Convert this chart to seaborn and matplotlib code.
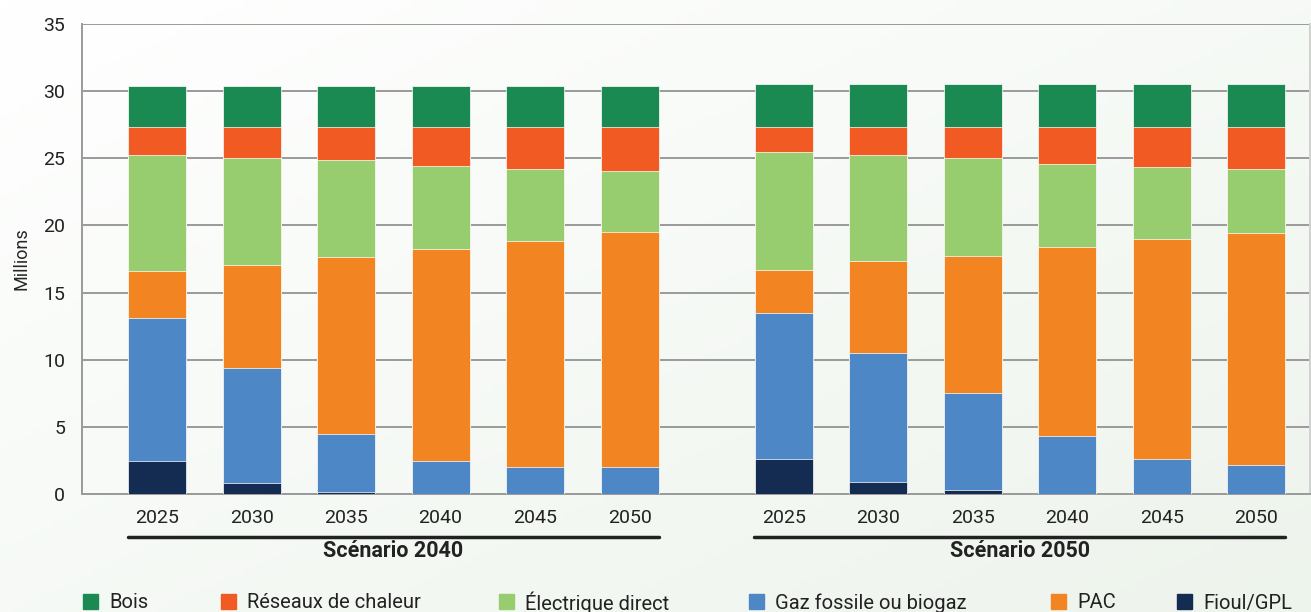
import numpy as np
import pandas as pd
import matplotlib
matplotlib.use("Agg")
import matplotlib.pyplot as plt
import matplotlib.transforms as mtransforms
from matplotlib.patches import Rectangle
import seaborn as sns

# data (millions)
years = ["2025", "2030", "2035", "2040", "2045", "2050"]
scenarios = ["Scénario 2040", "Scénario 2050"]
series = ["Bois", "Réseaux de chaleur", "Électrique direct",
          "Gaz fossile ou biogaz", "PAC", "Fioul/GPL"]
colors = ["#1b8a52", "#f15a22", "#97cd6e", "#4d87c6", "#f38422", "#142c52"]

fioul_2040 = [2.43, 0.82, 0.18, 0.0, 0.0, 0.0]
gaz_2040 = [10.70, 8.59, 4.32, 2.43, 2.01, 2.01]
pac_2040 = [3.47, 7.62, 13.15, 15.81, 16.83, 17.48]
elec_2040 = [8.67, 8.02, 7.20, 6.18, 5.39, 4.54]
reseaux_2040 = [2.03, 2.25, 2.45, 2.88, 3.07, 3.27]
bois_2040 = [3.08, 3.08, 3.08, 3.08, 3.08, 3.08]

fioul_2050 = [2.63, 0.92, 0.28, 0.0, 0.0, 0.0]
gaz_2050 = [10.88, 9.58, 7.24, 4.30, 2.61, 2.19]
pac_2050 = [3.17, 6.83, 10.20, 14.09, 16.38, 17.25]
elec_2050 = [8.76, 7.89, 7.28, 6.18, 5.39, 4.74]
reseaux_2050 = [1.92, 2.14, 2.36, 2.79, 2.98, 3.18]
bois_2050 = [3.20, 3.20, 3.20, 3.20, 3.20, 3.20]

# bar positions: two groups with a gap between them
pos = np.r_[np.arange(6), np.arange(6) + 6.63]

stack = {  # bottom to top
    "Fioul/GPL": fioul_2040 + fioul_2050,
    "Gaz fossile ou biogaz": gaz_2040 + gaz_2050,
    "PAC": pac_2040 + pac_2050,
    "Électrique direct": elec_2040 + elec_2050,
    "Réseaux de chaleur": reseaux_2040 + reseaux_2050,
    "Bois": bois_2040 + bois_2050,
}
df = pd.DataFrame(stack)
df["pos"] = pos
cum = df[list(stack.keys())].cumsum(axis=1)
col_of = dict(zip(series, colors))

sns.set_style("white")
plt.rcParams["font.family"] = ["Roboto", "DejaVu Sans"]

fig = plt.figure(figsize=(13.11, 6.12), dpi=100)

# soft diagonal background
bg = fig.add_axes([0, 0, 1, 1], zorder=-10)
gx, gy = np.meshgrid(np.linspace(0, 1, 200), np.linspace(0, 1, 100))
g = np.clip((gx + gy) / 2, 0, 1)[..., None]
c0 = np.array([1.0, 1.0, 1.0])
c1 = np.array([0.93, 0.957, 0.925])
bg.imshow(c0 + (c1 - c0) * g, aspect="auto", extent=[0, 1, 0, 1], origin="upper")
bg.axis("off")

ax = fig.add_axes([82 / 1311, 118 / 612, 1228 / 1311, 470 / 612])
ax.set_facecolor("none")

# layered cumulative bars, tallest (top of stack) first
for name in reversed(list(stack.keys())):
    sns.barplot(x=df["pos"], y=cum[name], color=col_of[name], native_scale=True,
                width=0.615, errorbar=None, edgecolor="white", linewidth=0.5,
                saturation=1, ax=ax, zorder=3)

ax.set_xlim(-0.795, 12.2)
ax.set_ylim(0, 35)
ax.set_yticks(range(0, 36, 5))
ax.set_xticks(pos)
ax.set_xticklabels(years * 2)
ax.set_xlabel("")
ax.set_ylabel("Millions", fontsize=13, labelpad=9)
ax.tick_params(axis="both", length=0, labelsize=14, colors="#222222")
ax.tick_params(axis="x", pad=11)
ax.tick_params(axis="y", pad=12)
ax.yaxis.grid(True, color="#9a9a9a", linewidth=1.4, zorder=0)
ax.set_axisbelow(True)
for s in ["left", "bottom", "right"]:
    ax.spines[s].set_color("#9a9a9a")
    ax.spines[s].set_linewidth(1.4)
ax.spines["right"].set_color("#d0d0d0")
ax.spines["top"].set_visible(False)

# scenario brackets under the year labels
trans = mtransforms.blended_transform_factory(ax.transData, ax.transAxes)
for k, name in enumerate(scenarios):
    left = pos[6 * k] - 0.31
    right = pos[6 * k + 5] + 0.31
    ax.plot([left, right], [-0.091, -0.091], color="#222222", lw=2.5,
            transform=trans, clip_on=False)
    ax.text((left + right) / 2, -0.122, name, transform=trans, ha="center",
            va="center", fontsize=15.5, fontweight="bold", color="#222222")

# legend along the bottom
leg_x = [83, 221, 499, 749, 1051, 1177]
for x0, name, col in zip(leg_x, series, colors):
    fig.patches.append(Rectangle((x0 / 1311, 3 / 612), 15 / 1311, 15 / 612,
                                 transform=fig.transFigure, color=col))
    fig.text((x0 + 26) / 1311, 9 / 612, name, fontsize=14.5, va="center",
             ha="left", color="#222222")

fig.savefig("out.png", dpi=100)
